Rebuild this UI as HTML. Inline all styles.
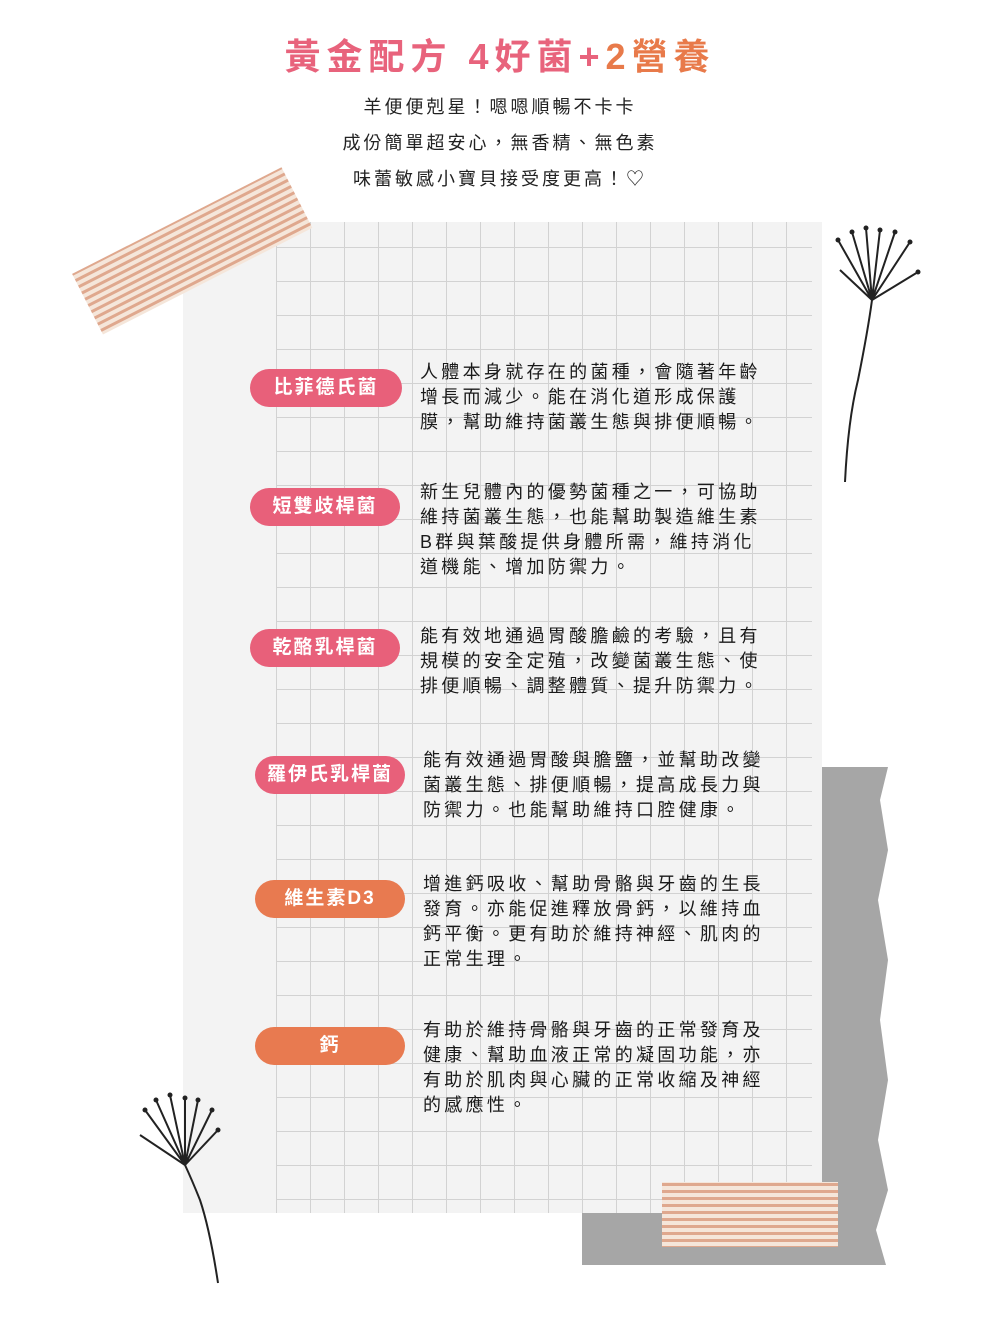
<!DOCTYPE html>
<html><head><meta charset="utf-8"><style>
body{margin:0;width:1000px;height:1317px;background:#fff;position:relative;overflow:hidden;font-family:"Liberation Sans","Noto Sans CJK TC",sans-serif;}
.abs{position:absolute}
.title{left:0;width:1000px;top:28px;text-align:center;font-size:36px;font-weight:bold;letter-spacing:6px;color:#e8637c}
.sub{left:0;width:1000px;text-align:center;font-size:18px;letter-spacing:3px;color:#222}
.paper{left:183px;top:222px;width:639px;height:991px;background:#f3f3f3}
.grid{left:276px;top:222px;width:536px;height:991px;
background-image:linear-gradient(#d2d2d2 1px,transparent 1px),linear-gradient(90deg,#d2d2d2 1px,transparent 1px);
background-size:34px 34px;background-position:0 25px,0 0}
.pill{height:38px;border-radius:19px;color:#fff;font-weight:bold;font-size:19px;letter-spacing:2px;text-align:center;line-height:38px;background:#e8607a}
.or{background:#e87a50}
.txt{left:420px;width:352px;font-size:18px;line-height:25px;letter-spacing:3.3px;color:#1a1a1a}
</style></head><body>
<svg class="abs" style="left:0;top:0" width="1000" height="1317">
<path d="M822 767 L888 767 L880 800 L888 850 L878 900 L888 960 L880 1020 L888 1080 L878 1140 L888 1190 L876 1230 L886 1265 L582 1265 L582 1213 L822 1213 Z" fill="#a6a6a6"/>
</svg>
<div class="abs paper"></div>
<div class="abs grid"></div>
<svg class="abs" style="left:0;top:0" width="1000" height="1317">
<defs><pattern id="st" width="8" height="7" patternUnits="userSpaceOnUse"><rect width="8" height="7" fill="#f5e6da"/><rect width="8" height="3" fill="#dfa88e"/></pattern></defs>
<g transform="rotate(-27 190 252)"><rect x="75" y="218" width="235" height="68" fill="url(#st)"/></g>
<rect x="662" y="1182" width="176" height="65" fill="url(#st)"/>
<g stroke="#222" stroke-width="2" fill="none">
<path d="M845 482 Q848 420 858 380 Q868 330 872 300"/>
<path d="M872 300 L838 240 M872 300 L852 232 M872 300 L866 228 M872 300 L880 230 M872 300 L895 232 M872 300 L910 242 M872 300 L918 272 M872 300 L840 270"/>
<path d="M218 1283 Q210 1230 200 1200 Q192 1180 185 1165"/>
<path d="M185 1165 L145 1110 M185 1165 L156 1100 M185 1165 L170 1095 M185 1165 L185 1098 M185 1165 L198 1100 M185 1165 L212 1110 M185 1165 L218 1130 M185 1165 L140 1135"/>
</g>
<g fill="#222"><circle cx="838" cy="240" r="2.5"/><circle cx="852" cy="232" r="2.5"/><circle cx="866" cy="228" r="2.5"/><circle cx="880" cy="230" r="2.5"/><circle cx="895" cy="232" r="2.5"/><circle cx="910" cy="242" r="2.5"/><circle cx="918" cy="272" r="2.5"/>
<circle cx="145" cy="1110" r="2.5"/><circle cx="156" cy="1100" r="2.5"/><circle cx="170" cy="1095" r="2.5"/><circle cx="185" cy="1098" r="2.5"/><circle cx="198" cy="1100" r="2.5"/><circle cx="212" cy="1110" r="2.5"/><circle cx="218" cy="1130" r="2.5"/></g>
</svg>
<div class="abs title">黃金配方 4好菌+<span style="color:#e87a4a">2營養</span></div>
<div class="abs sub" style="top:93px">羊便便剋星！嗯嗯順暢不卡卡</div>
<div class="abs sub" style="top:129px">成份簡單超安心，無香精、無色素</div>
<div class="abs sub" style="top:165px">味蕾敏感小寶貝接受度更高！♡</div>

<div class="abs pill" style="left:250px;top:369px;width:152px">比菲德氏菌</div>
<div class="abs pill" style="left:250px;top:488px;width:150px">短雙歧桿菌</div>
<div class="abs pill" style="left:250px;top:629px;width:150px">乾酪乳桿菌</div>
<div class="abs pill" style="left:255px;top:756px;width:150px">羅伊氏乳桿菌</div>
<div class="abs pill or" style="left:255px;top:880px;width:150px">維生素D3</div>
<div class="abs pill or" style="left:255px;top:1027px;width:150px">鈣</div>

<div class="abs txt" style="top:360px">人體本身就存在的菌種，會隨著年齡增長而減少。能在消化道形成保護膜，幫助維持菌叢生態與排便順暢。</div>
<div class="abs txt" style="top:480px">新生兒體內的優勢菌種之一，可協助維持菌叢生態，也能幫助製造維生素B群與葉酸提供身體所需，維持消化道機能、增加防禦力。</div>
<div class="abs txt" style="top:624px">能有效地通過胃酸膽鹼的考驗，且有規模的安全定殖，改變菌叢生態、使排便順暢、調整體質、提升防禦力。</div>
<div class="abs txt" style="top:748px;left:423px">能有效通過胃酸與膽鹽，並幫助改變菌叢生態、排便順暢，提高成長力與防禦力。也能幫助維持口腔健康。</div>
<div class="abs txt" style="top:872px;left:423px">增進鈣吸收、幫助骨骼與牙齒的生長發育。亦能促進釋放骨鈣，以維持血鈣平衡。更有助於維持神經、肌肉的正常生理。</div>
<div class="abs txt" style="top:1018px;left:423px">有助於維持骨骼與牙齒的正常發育及健康、幫助血液正常的凝固功能，亦有助於肌肉與心臟的正常收縮及神經的感應性。</div>
</body></html>
